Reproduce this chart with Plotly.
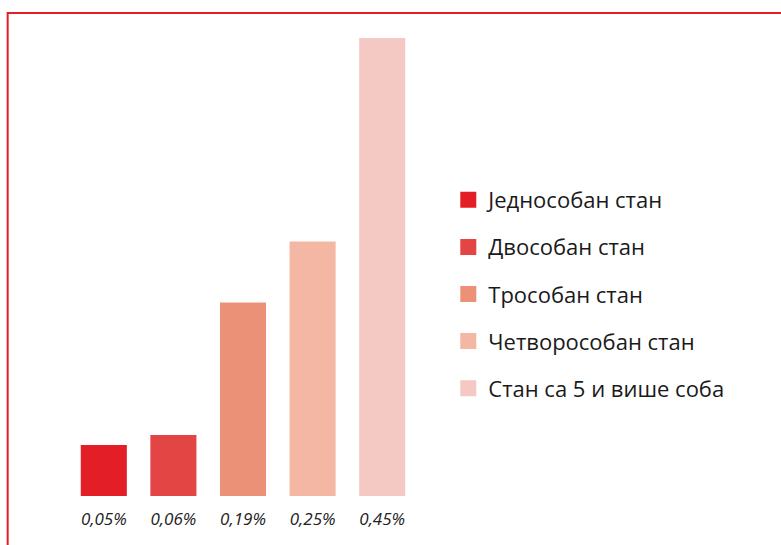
import plotly.graph_objects as go

categories = ["Једнособан стан", "Двособан стан", "Трособан стан",
              "Четворособан стан", "Стан са 5 и више соба"]
values = [0.05, 0.06, 0.19, 0.25, 0.45]
value_labels = ["0,05%", "0,06%", "0,19%", "0,25%", "0,45%"]
colors = ["#E31E26", "#E34545", "#EA9178", "#F4B7A3", "#F4C8C3"]

fig = go.Figure()
fig.add_trace(go.Bar(
    x=categories, y=values, marker=dict(color=colors, line=dict(width=0)),
    showlegend=False, hoverinfo="skip"))

for i, (c, col) in enumerate(zip(categories, colors)):
    fig.add_trace(go.Scatter(
        x=[None], y=[None], mode="markers", name=c,
        marker=dict(symbol="square", size=16, color=col),
        legendgroup=str(i), showlegend=True))

W, H = 781, 545
ml, mr, mt, mb = 69.25, W - 416.75, 38, 49
pw, ph = W - ml - mr, H - mt - mb

fig.update_layout(
    width=W, height=H,
    margin=dict(l=ml, r=mr, t=mt, b=mb, pad=0),
    paper_bgcolor="white", plot_bgcolor="white",
    font=dict(family="Open Sans", color="#1a1a1a"),
    bargap=0.338,
    xaxis=dict(tickmode="array", tickvals=categories, ticktext=value_labels,
               tickfont=dict(size=17, style="italic", color="#222"),
               showgrid=False, zeroline=False, showline=False, ticks="",
               ticklabelstandoff=11, fixedrange=True),
    yaxis=dict(range=[0, 0.45], visible=False, showgrid=False, fixedrange=True),
    legend=dict(x=(448 - ml) / pw, xanchor="left",
                y=(496 - 179) / ph, yanchor="top",
                font=dict(size=22, color="#1a1a1a"),
                tracegroupgap=15.5, traceorder="grouped",
                itemsizing="trace", bgcolor="rgba(0,0,0,0)"),
    shapes=[dict(type="rect", xref="paper", yref="paper",
                 x0=(8 - ml) / pw, x1=(W + 20 - ml) / pw,
                 y0=-(60) / ph, y1=(496 - 13) / ph,
                 line=dict(color="#E31E26", width=2), fillcolor="rgba(0,0,0,0)",
                 layer="below")],
)

fig.write_html("out.html", config={"displayModeBar": False},
               post_script="document.body.style.margin='0';")
